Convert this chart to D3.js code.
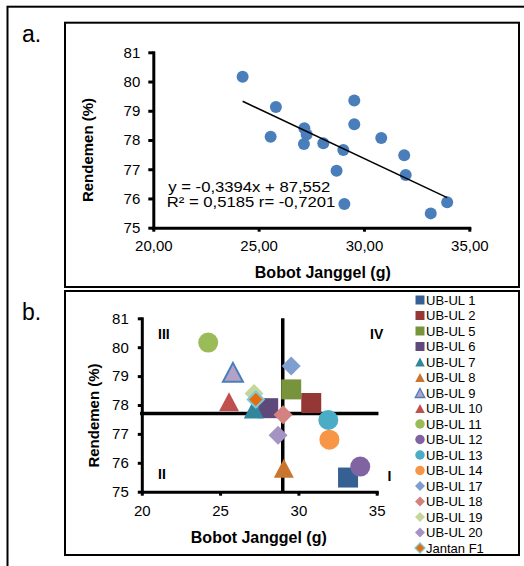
<!DOCTYPE html>
<html>
<head>
<meta charset="utf-8">
<script src="https://cdn.jsdelivr.net/npm/d3@7"></script>
<style>
body { margin: 0; background: #fff; }
svg { display: block; font-family: Arial, "Liberation Sans", sans-serif; }
</style>
</head>
<body>
<svg width="524" height="566"></svg>
<script>
// data
const genotypes = ["UB-UL 1", "UB-UL 2", "UB-UL 5", "UB-UL 6", "UB-UL 7", "UB-UL 8", "UB-UL 9", "UB-UL 10",
  "UB-UL 11", "UB-UL 12", "UB-UL 13", "UB-UL 14", "UB-UL 17", "UB-UL 18", "UB-UL 19", "UB-UL 20", "Jantan F1"];
const bobotJanggel = [33.17, 30.82, 29.54, 28.07, 27.15, 29.07, 25.82, 25.57,
  24.24, 33.95, 31.91, 31.98, 29.54, 29.02, 27.17, 28.70, 27.28];
const rendemen = [75.49, 78.07, 78.54, 77.89, 77.86, 75.81, 79.13, 78.11,
  80.16, 75.87, 77.48, 76.80, 79.35, 77.66, 78.40, 76.95, 78.19];
const trendSlope = -0.3394;
const trendIntercept = 87.552;
const trendText = ["y = -0,3394x + 87,552", "R\u00b2 = 0,5185 r= -0,7201"];
const quadrantX = 29.0;   // vertical split line (mean bobot)
const quadrantY = 77.71;  // horizontal split line (mean rendemen)
const xTicks = [20, 25, 30, 35];
const yTicks = [75, 76, 77, 78, 79, 80, 81];
const xTitle = "Bobot Janggel (g)";
const yTitle = "Rendemen (%)";

// marker styles for panel b (series order)
const markerShape = ["square", "square", "square", "square", "triangle", "triangle", "triangle", "triangle",
  "circle", "circle", "circle", "circle", "diamond", "diamond", "diamond", "diamond", "diamond"];
const markerFill = ["#376092", "#953735", "#77933C", "#5F497A", "#31859C", "#C9742F", "#B3A2C7", "#C0504D",
  "#9BBB59", "#8064A2", "#4BACC6", "#F79646", "#7F9ED0", "#D48180", "#C3D69B", "#A593C4", "#E46C0A"];
const markerStroke = [null, null, null, null, null, null, "#4A7EBB", null,
  null, null, null, null, null, null, null, null, "#7EC6DC"];

const svg = d3.select("svg");
const font = 'Arial, "Liberation Sans", sans-serif';

function symbolPath(shape, w) {
  if (shape === "circle") return d3.symbol(d3.symbolCircle, Math.PI * w * w / 4)();
  if (shape === "square") return d3.symbol(d3.symbolSquare, w * w)();
  if (shape === "triangle") {
    const h = w * 0.95;
    return `M0,${-h / 2}L${w / 2},${h / 2}L${-w / 2},${h / 2}Z`;
  }
  const r = w / 2;
  return `M0,${-r}L${r},0L0,${r}L${-r},0Z`;
}

function styleAxis(g, size) {
  g.attr("font-family", font).attr("font-size", size);
  g.select(".domain").attr("stroke", "#000").attr("stroke-width", 3).attr("stroke-linecap", "square");
  g.selectAll(".tick line").attr("stroke", "#000").attr("stroke-width", 3);
  g.selectAll(".tick text").attr("fill", "#000");
}

// frames
svg.append("rect").attr("x", 7.5).attr("y", 6.7).attr("width", 600).attr("height", 600)
  .attr("fill", "none").attr("stroke", "#000").attr("stroke-width", 2);
svg.append("rect").attr("x", 65).attr("y", 22.7).attr("width", 454).attr("height", 264.3)
  .attr("fill", "none").attr("stroke", "#000").attr("stroke-width", 2);
svg.append("rect").attr("x", 65).attr("y", 291).attr("width", 454).attr("height", 264)
  .attr("fill", "none").attr("stroke", "#000").attr("stroke-width", 2);

svg.append("text").attr("x", 22).attr("y", 41.7).attr("font-size", 23).text("a.");
svg.append("text").attr("x", 22).attr("y", 319.5).attr("font-size", 23).text("b.");

const commaFmt = d => d3.format(".2f")(d).replace(".", ",");
const intFmt = d3.format("d");

// ---------- panel a ----------
const xA = d3.scaleLinear().domain([20, 35]).range([153.3, 469.3]);
const yA = d3.scaleLinear().domain([75, 81]).range([227.7, 52.3]);

svg.append("g").attr("transform", "translate(0,227.7)")
  .call(d3.axisBottom(xA).tickValues(xTicks).tickFormat(commaFmt).tickSize(4).tickSizeOuter(0).tickPadding(9))
  .call(g => styleAxis(g, 15));
svg.append("g").attr("transform", "translate(153.3,0)")
  .call(d3.axisLeft(yA).tickValues(yTicks).tickFormat(intFmt).tickSize(5).tickSizeOuter(0).tickPadding(8))
  .call(g => styleAxis(g, 15));

svg.append("text").attr("x", 322.8).attr("y", 278.3).attr("text-anchor", "middle")
  .attr("font-size", 16).attr("font-weight", "bold").text(xTitle);
svg.append("text").attr("transform", "translate(93,150)rotate(-90)").attr("text-anchor", "middle")
  .attr("font-size", 15).attr("font-weight", "bold").text(yTitle);

svg.append("g").selectAll("circle")
  .data(d3.range(genotypes.length))
  .join("circle")
  .attr("cx", i => xA(bobotJanggel[i]))
  .attr("cy", i => yA(rendemen[i]))
  .attr("r", 6)
  .attr("fill", "#4A7EBB");

const xExt = d3.extent(bobotJanggel);
const trendLine = d3.line().x(d => xA(d)).y(d => yA(trendSlope * d + trendIntercept));
svg.append("path").datum(xExt).attr("d", trendLine)
  .attr("fill", "none").attr("stroke", "#000").attr("stroke-width", 1.5);

svg.append("g").selectAll("text")
  .data(trendText)
  .join("text")
  .attr("transform", (d, i) => `translate(${i ? 166.7 : 168.3},${i ? 206.7 : 191.7})scale(1.15,1)`)
  .attr("font-size", 14.5)
  .text(d => d);

// ---------- panel b ----------
const xB = d3.scaleLinear().domain([20, 35]).range([141.8, 376.7]);
const yB = d3.scaleLinear().domain([75, 81]).range([491.7, 318.3]);

svg.append("g").attr("transform", "translate(0,491.7)")
  .call(d3.axisBottom(xB).tickValues(xTicks).tickFormat(intFmt).tickSize(4).tickSizeOuter(0).tickPadding(10))
  .call(g => styleAxis(g, 15));
svg.append("g").attr("transform", "translate(141.8,0)")
  .call(d3.axisLeft(yB).tickValues(yTicks).tickFormat(intFmt).tickSize(4).tickSizeOuter(0).tickPadding(9))
  .call(g => styleAxis(g, 15));

svg.append("text").attr("x", 258.8).attr("y", 543.3).attr("text-anchor", "middle")
  .attr("font-size", 16).attr("font-weight", "bold").text(xTitle);
svg.append("text").attr("transform", "translate(99,415.5)rotate(-90)").attr("text-anchor", "middle")
  .attr("font-size", 15).attr("font-weight", "bold").text(yTitle);

// quadrant lines
const qLine = d3.line().x(d => xB(d[0])).y(d => yB(d[1]));
svg.append("path").datum([[quadrantX, 75], [quadrantX, 81]]).attr("d", qLine)
  .attr("fill", "none").attr("stroke", "#000").attr("stroke-width", 3.5);
svg.append("path").datum([[20, quadrantY], [35, quadrantY]]).attr("d", qLine)
  .attr("fill", "none").attr("stroke", "#000").attr("stroke-width", 3.5).attr("stroke-linecap", "square");

// quadrant labels
const quadLabels = [["III", 158, 339.3], ["IV", 370, 339.3], ["II", 158, 479.3], ["I", 387.5, 481]];
svg.append("g").selectAll("text")
  .data(quadLabels)
  .join("text")
  .attr("x", d => d[1]).attr("y", d => d[2])
  .attr("font-size", 14).attr("font-weight", "bold")
  .text(d => d[0]);

svg.append("g").selectAll("path")
  .data(d3.range(genotypes.length))
  .join("path")
  .attr("transform", i => `translate(${xB(bobotJanggel[i])},${yB(rendemen[i])})`)
  .attr("d", i => symbolPath(markerShape[i], markerShape[i] === "diamond" ? (i === 16 ? 16 : 19) : 20))
  .attr("fill", i => markerFill[i])
  .attr("stroke", i => markerStroke[i] || "none")
  .attr("stroke-width", 2);

// legend
const legend = svg.append("g").selectAll("g")
  .data(d3.range(genotypes.length))
  .join("g")
  .attr("transform", i => `translate(420,${300 + i * 15.5})`);
legend.append("path")
  .attr("d", i => symbolPath(markerShape[i], markerShape[i] === "square" ? 9 : (markerShape[i] === "diamond" ? 10 : 9.5)))
  .attr("fill", i => markerFill[i])
  .attr("stroke", i => markerStroke[i] || "none")
  .attr("stroke-width", 1.3);
legend.append("text")
  .attr("x", 6).attr("dy", "0.35em")
  .attr("font-size", 13)
  .text(i => genotypes[i]);
</script>
</body>
</html>
